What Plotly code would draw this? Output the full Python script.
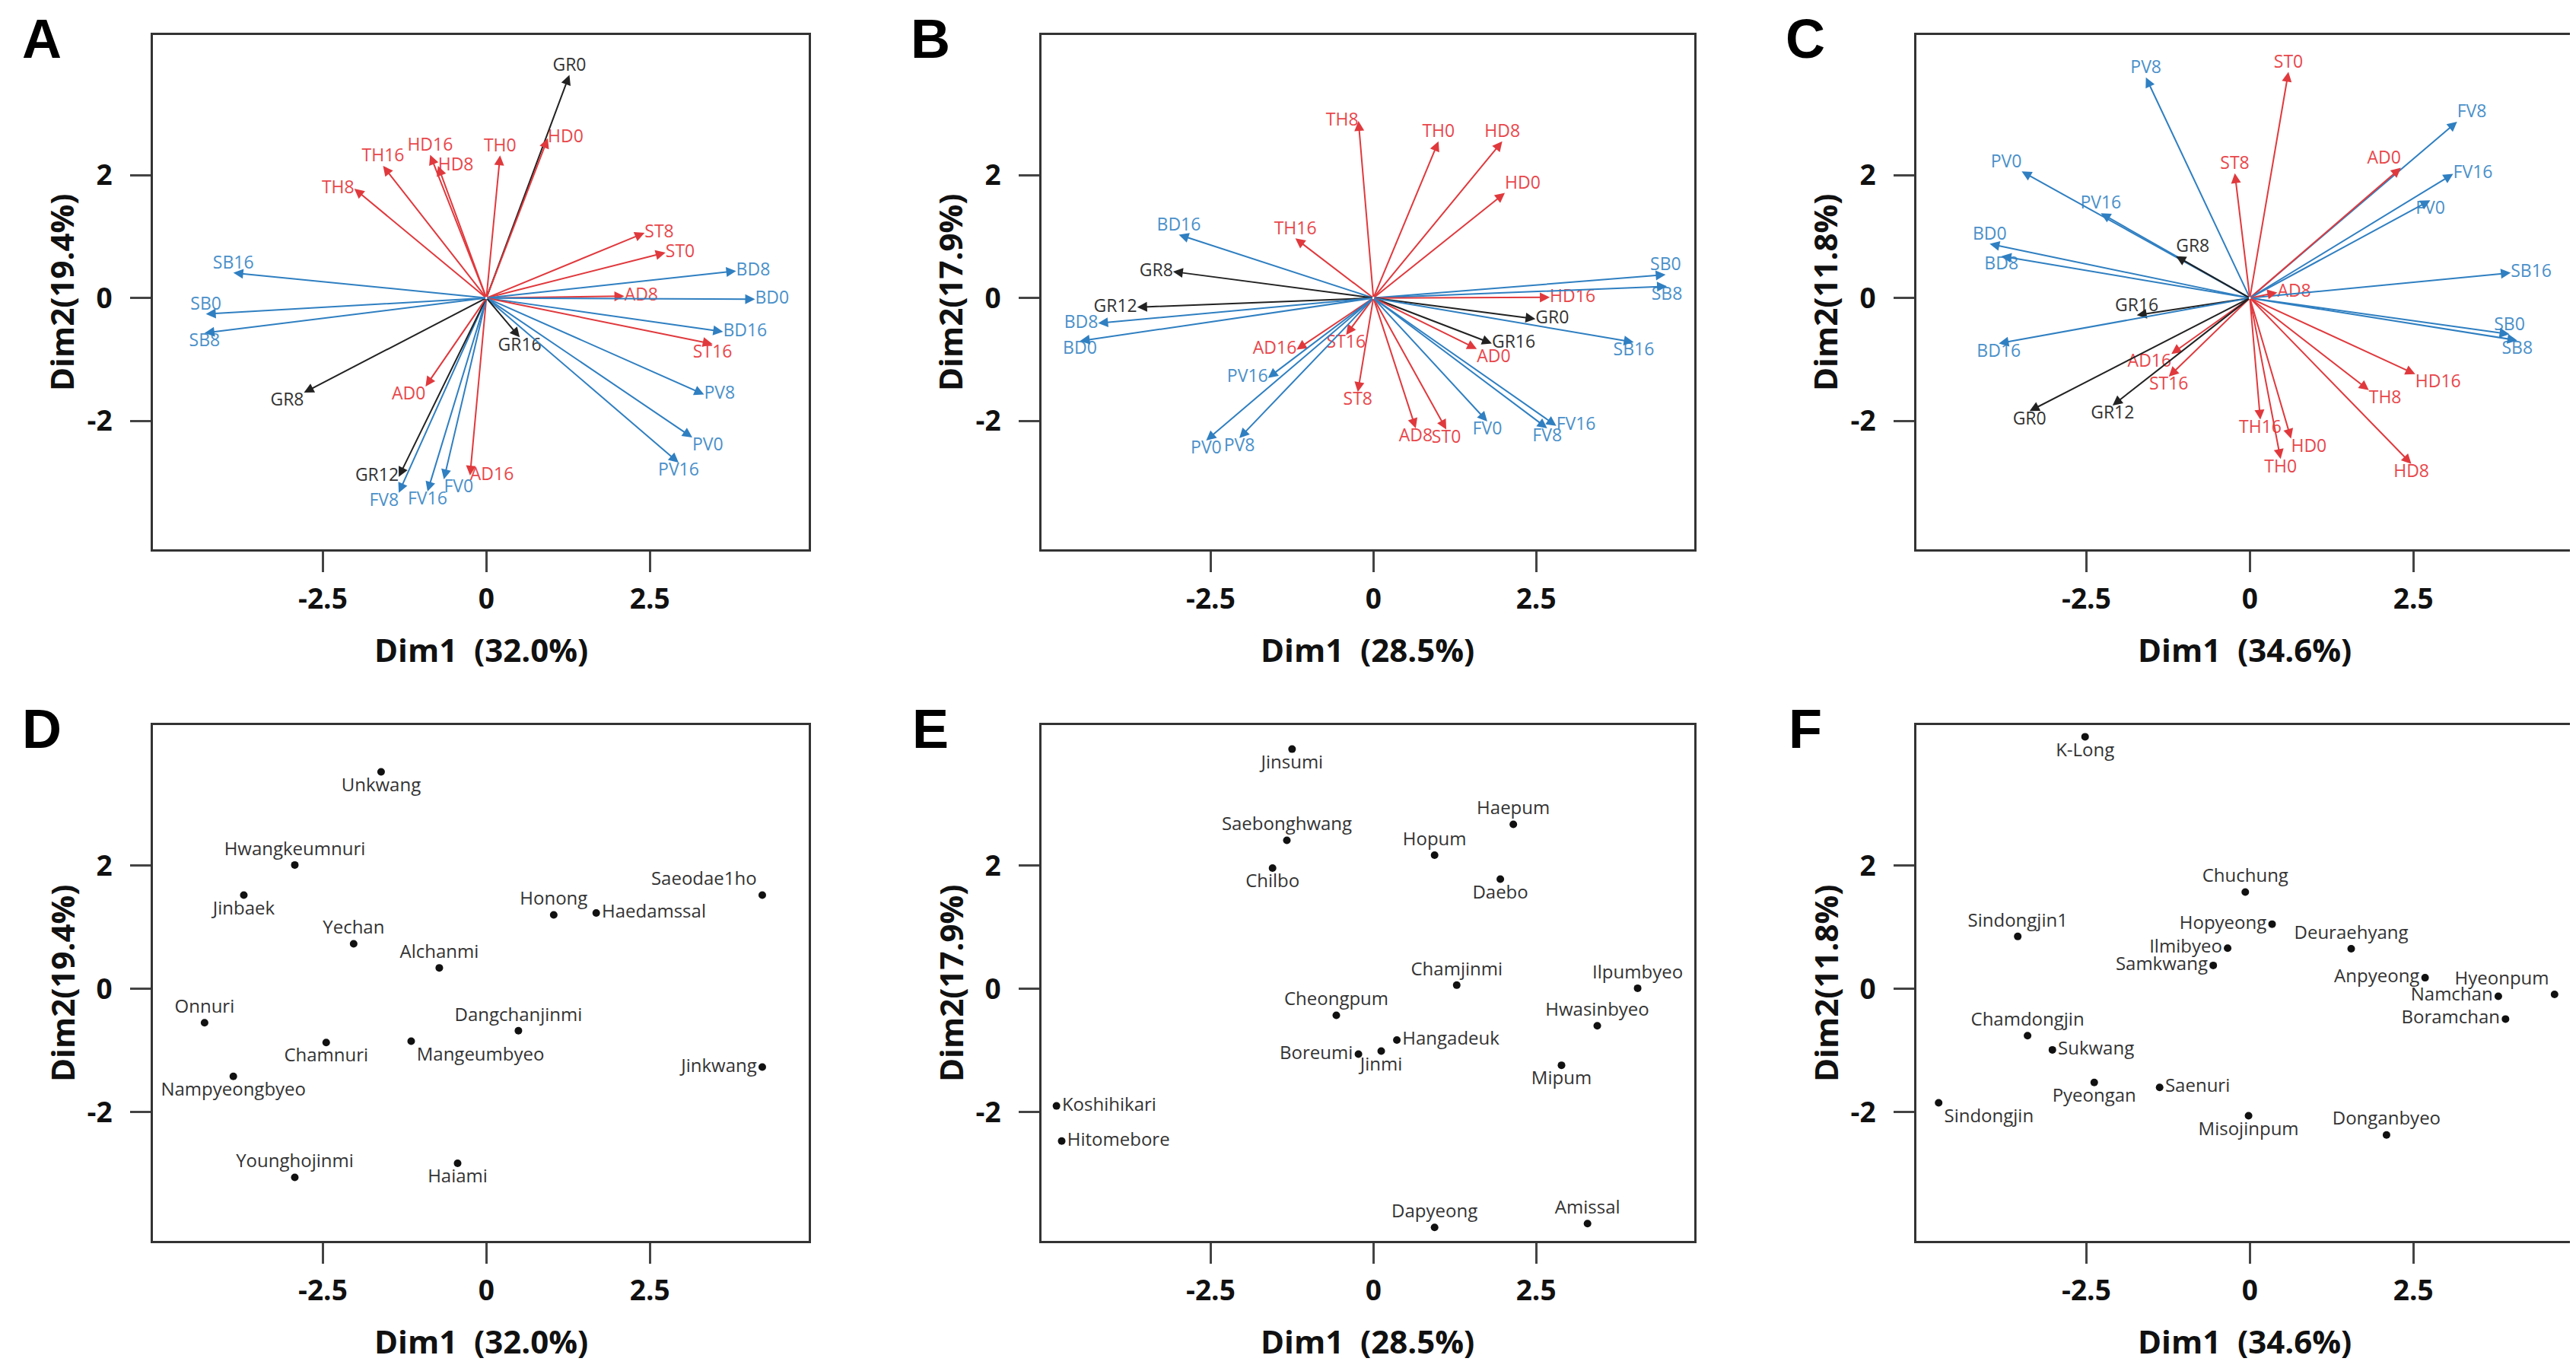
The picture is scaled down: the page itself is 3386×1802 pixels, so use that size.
import plotly.graph_objects as go

W, H = 3386, 1802

# ---------------- A-C: variable loadings (arrows from origin) ----------------
A_VARS = ["GR0", "HD0", "TH0", "HD16", "HD8", "TH16", "TH8", "ST8", "ST0", "AD8",
          "BD8", "BD0", "BD16", "ST16", "PV8", "PV0", "PV16", "GR16", "AD16", "FV0",
          "FV16", "FV8", "GR12", "AD0", "GR8", "SB16", "SB0", "SB8"]
A_DIM1 = [1.27, 0.94, 0.21, -0.86, -0.74, -1.58, -2.02, 2.42, 2.74, 2.11,
          3.82, 4.11, 3.62, 3.46, 3.33, 3.15, 2.94, 0.51, -0.25, -0.65,
          -0.90, -1.34, -1.34, -0.93, -2.79, -3.87, -4.29, -4.31]
A_DIM2 = [3.63, 2.60, 2.32, 2.33, 2.15, 2.15, 1.78, 1.06, 0.74, 0.03,
          0.44, -0.02, -0.55, -0.75, -1.57, -2.27, -2.68, -0.64, -2.89, -2.95,
          -3.15, -3.17, -2.91, -1.44, -1.54, 0.41, -0.26, -0.57]

B_VARS = ["TH8", "TH0", "HD8", "HD0", "TH16", "BD16", "GR8", "GR12", "BD8", "BD0",
          "SB0", "SB8", "HD16", "GR0", "GR16", "SB16", "AD0", "ST16", "AD16", "PV16",
          "ST8", "PV0", "PV8", "AD8", "ST0", "FV0", "FV8", "FV16"]
B_DIM1 = [-0.23, 1.00, 1.98, 2.02, -1.20, -2.99, -3.08, -3.63, -4.23, -4.51,
          4.49, 4.51, 2.71, 2.49, 1.82, 4.00, 1.59, -0.42, -1.18, -1.62,
          -0.24, -2.57, -2.06, 0.65, 1.12, 1.75, 2.67, 2.81]
B_DIM2 = [2.88, 2.55, 2.55, 1.71, 0.97, 1.03, 0.43, -0.15, -0.41, -0.70,
          0.38, 0.19, 0.01, -0.34, -0.74, -0.72, -0.83, -0.60, -0.84, -1.30,
          -1.53, -2.32, -2.28, -2.12, -2.14, -2.01, -2.12, -2.08]

C_VARS = ["PV8", "ST0", "FV8", "AD0", "FV16", "FV0", "ST8", "PV0", "PV16", "BD0",
          "BD8", "GR8", "SB16", "AD8", "GR16", "BD16", "SB0", "SB8", "AD16", "ST16",
          "HD16", "TH8", "GR0", "GR12", "TH16", "HD0", "TH0", "HD8"]
C_DIM1 = [-1.59, 0.59, 3.17, 2.31, 3.11, 2.76, -0.23, -3.49, -2.28, -3.98,
          -3.80, -1.13, 3.99, 0.42, -1.73, -3.84, 3.97, 4.09, -1.20, -1.24,
          2.53, 1.82, -3.37, -2.10, 0.16, 0.63, 0.47, 2.47]
C_DIM2 = [3.59, 3.68, 2.87, 2.12, 2.02, 1.59, 2.03, 2.06, 1.38, 0.88,
          0.68, 0.68, 0.41, 0.09, -0.28, -0.74, -0.59, -0.69, -0.91, -1.28,
          -1.24, -1.50, -1.84, -1.75, -1.98, -2.29, -2.62, -2.70]

# ---------------- D-F: cultivar scores ----------------
D_NAMES = ["Unkwang", "Hwangkeumnuri", "Jinbaek", "Yechan", "Alchanmi", "Honong",
           "Haedamssal", "Saeodae1ho", "Onnuri", "Dangchanjinmi", "Chamnuri",
           "Mangeumbyeo", "Jinkwang", "Nampyeongbyeo", "Younghojinmi", "Haiami"]
D_DIM1 = [-1.61, -2.93, -3.71, -2.03, -0.72, 1.03, 1.68, 4.22, -4.31, 0.49, -2.45,
          -1.15, 4.22, -3.87, -2.93, -0.44]
D_DIM2 = [3.52, 2.01, 1.52, 0.73, 0.34, 1.20, 1.23, 1.52, -0.55, -0.68, -0.87,
          -0.85, -1.27, -1.42, -3.06, -2.83]

E_NAMES = ["Jinsumi", "Saebonghwang", "Chilbo", "Hopum", "Haepum", "Daebo",
           "Chamjinmi", "Ilpumbyeo", "Cheongpum", "Hwasinbyeo", "Hangadeuk",
           "Boreumi", "Jinmi", "Mipum", "Koshihikari", "Hitomebore", "Dapyeong",
           "Amissal"]
E_DIM1 = [-1.25, -1.33, -1.55, 0.94, 2.15, 1.95, 1.28, 4.06, -0.57, 3.44, 0.36,
          -0.23, 0.12, 2.89, -4.87, -4.79, 0.94, 3.29]
E_DIM2 = [3.89, 2.41, 1.96, 2.17, 2.67, 1.78, 0.06, 0.01, -0.43, -0.60, -0.83,
          -1.06, -1.01, -1.24, -1.90, -2.47, -3.87, -3.81]

F_NAMES = ["K-Long", "Chuchung", "Hopyeong", "Sindongjin1", "Ilmibyeo", "Deuraehyang",
           "Samkwang", "Anpyeong", "Hyeonpum", "Namchan", "Boramchan", "Chamdongjin",
           "Sukwang", "Pyeongan", "Saenuri", "Sindongjin", "Misojinpum", "Donganbyeo"]
F_DIM1 = [-2.52, -0.07, 0.34, -3.55, -0.34, 1.55, -0.56, 2.68, 4.66, 3.80, 3.91,
          -3.40, -3.02, -2.38, -1.38, -4.76, -0.02, 2.09]
F_DIM2 = [4.09, 1.57, 1.05, 0.85, 0.66, 0.65, 0.38, 0.18, -0.09, -0.12, -0.49,
          -0.76, -0.99, -1.52, -1.60, -1.85, -2.06, -2.37]

DIM1_PCT = ["32.0", "28.5", "34.6"]
DIM2_PCT = ["19.4", "17.9", "11.8"]
X_TICKS = [-2.5, 0, 2.5]
X_TICK_TEXT = ["-2.5", "0", "2.5"]
Y_TICKS = [-2, 0, 2]
Y_TICK_TEXT = ["-2", "0", "2"]

# ---------------- styling ----------------
RED, BLUE, BLACK = "#e0393d", "#2f7fc1", "#222222"
RED_TXT, BLUE_TXT, BLACK_TXT = "#e8474b", "#4a90c9", "#333333"
FONT = "Open Sans"

# label placement relative to arrow tip / point
A_POS = ["top center", "middle right", "top center", "top center", "middle right",
         "top center", "middle left", "middle right", "middle right", "middle right",
         "middle right", "middle right", "middle right", "bottom center", "middle right",
         "bottom right", "bottom center", "bottom center", "middle right", "bottom right",
         "bottom center", "bottom left", "middle left", "bottom left", "bottom left",
         "top center", "top center", "bottom center"]
B_POS = ["middle left", "top center", "top center", "top right", "top center",
         "top center", "middle left", "middle left", "middle left", "bottom center",
         "top center", "bottom center", "middle right", "middle right", "middle right",
         "bottom center", "bottom right", "bottom center", "middle left", "middle left",
         "bottom center", "bottom center", "bottom center", "bottom center", "bottom center",
         "bottom center", "bottom center", "middle right"]
C_POS = ["top center", "top center", "top right", "top left", "middle right",
         "bottom center", "top center", "top left", "top center", "top center",
         "bottom center", "top right", "middle right", "middle right", "top center",
         "bottom center", "top center", "bottom center", "bottom left", "bottom center",
         "bottom right", "bottom right", "bottom center", "bottom center", "bottom center",
         "bottom right", "bottom center", "bottom center"]
D_POS = ["bottom center", "top center", "bottom center", "top center", "top center",
         "top center", "middle right", "top left", "top center", "top center",
         "bottom center", "bottom right", "middle left", "bottom center", "top center",
         "bottom center"]
E_POS = ["bottom center", "top center", "bottom center", "top center", "top center",
         "bottom center", "top center", "top center", "top center", "top center",
         "middle right", "middle left", "bottom center", "bottom center", "middle right",
         "middle right", "top center", "top center"]
F_POS = ["bottom center", "top center", "middle left", "top center", "middle left",
         "top center", "middle left", "middle left", "top left", "middle left",
         "middle left", "top center", "middle right", "bottom center", "middle right",
         "bottom right", "bottom center", "top center"]

# plot frames in pixels: (left, right) per column, (top, bottom) per row
COL_X = [(193, 1055), (1361, 2219), (2511, 3373)]
ROW_Y = [(38, 714), (945, 1623)]
X_RANGE = [-5.1, 4.93]
Y_RANGE = [-4.09, 4.28]


def var_color(name, text=False):
    if name.startswith("GR"):
        return BLACK_TXT if text else BLACK
    if name[:2] in ("HD", "TH", "ST", "AD"):
        return RED_TXT if text else RED
    return BLUE_TXT if text else BLUE


fig = go.Figure()
annotations = []
layout_axes = {}

loadings = [(A_VARS, A_DIM1, A_DIM2, A_POS), (B_VARS, B_DIM1, B_DIM2, B_POS),
            (C_VARS, C_DIM1, C_DIM2, C_POS)]
scores = [(D_NAMES, D_DIM1, D_DIM2, D_POS), (E_NAMES, E_DIM1, E_DIM2, E_POS),
          (F_NAMES, F_DIM1, F_DIM2, F_POS)]

for i, letter in enumerate("ABCDEF"):
    row, col = divmod(i, 3)
    n = i + 1
    xa, ya = f"x{n}", f"y{n}"
    left, right = COL_X[col]
    top, bottom = ROW_Y[row]

    axis_style = dict(
        showline=True, linewidth=3, linecolor="#333333", mirror=True,
        ticks="outside", ticklen=27, tickwidth=3, tickcolor="#444444",
        showgrid=False, zeroline=False, fixedrange=True,
        tickfont=dict(family=FONT, size=37, color="#111111", weight="bold"),
    )
    layout_axes[f"xaxis{n}"] = dict(
        axis_style, domain=[left / W, right / W], anchor=ya, range=X_RANGE,
        tickmode="array", tickvals=X_TICKS, ticktext=X_TICK_TEXT, ticklabelstandoff=4,
    )
    layout_axes[f"yaxis{n}"] = dict(
        axis_style, domain=[1 - bottom / H, 1 - top / H], anchor=xa, range=Y_RANGE,
        tickmode="array", tickvals=Y_TICKS, ticktext=Y_TICK_TEXT, ticklabelstandoff=16,
    )

    if row == 0:
        names, d1, d2, pos = loadings[col]
        for name, x, y in zip(names, d1, d2):
            annotations.append(dict(
                x=x, y=y, ax=0, ay=0, xref=xa, yref=ya, axref=xa, ayref=ya,
                text="", showarrow=True, arrowhead=2, arrowsize=1.3,
                arrowwidth=2, arrowcolor=var_color(name),
            ))
        fig.add_trace(go.Scatter(
            x=d1, y=d2, text=names, mode="text", textposition=pos,
            textfont=dict(family=FONT, size=23,
                          color=[var_color(nm, text=True) for nm in names]),
            xaxis=xa, yaxis=ya, cliponaxis=False, showlegend=False, hoverinfo="text",
        ))
    else:
        names, d1, d2, pos = scores[col]
        fig.add_trace(go.Scatter(
            x=d1, y=d2, text=names, mode="markers+text", textposition=pos,
            marker=dict(size=10, color="#111111"),
            textfont=dict(family=FONT, size=24, color="#333333"),
            xaxis=xa, yaxis=ya, cliponaxis=False, showlegend=False, hoverinfo="text",
        ))

    # axis titles and panel letters
    cx = (left + right) / 2 / W
    annotations.append(dict(
        x=cx, y=1 - (bottom + 131) / H, xref="paper", yref="paper",
        text=f"Dim1  ({DIM1_PCT[col]}%)", showarrow=False,
        font=dict(family=FONT, size=42, color="#111111", weight="bold"),
        xanchor="center", yanchor="middle",
    ))
    annotations.append(dict(
        x=(left - 120) / W, y=1 - (top + bottom) / 2 / H, xref="paper", yref="paper",
        text=f"Dim2({DIM2_PCT[col]}%)", showarrow=False, textangle=-90,
        font=dict(family=FONT, size=42, color="#111111", weight="bold"),
        xanchor="center", yanchor="middle",
    ))
    annotations.append(dict(
        x=(left - 146) / W, y=1 - (top + 5) / H, xref="paper", yref="paper",
        text=letter, showarrow=False,
        font=dict(family="Liberation Sans", size=72, color="#000000", weight="bold"),
        xanchor="center", yanchor="middle",
    ))

fig.update_layout(
    width=W, height=H,
    margin=dict(l=0, r=0, t=0, b=0),
    paper_bgcolor="white", plot_bgcolor="white",
    annotations=annotations,
    **layout_axes,
)

fig.write_html("out.html")
